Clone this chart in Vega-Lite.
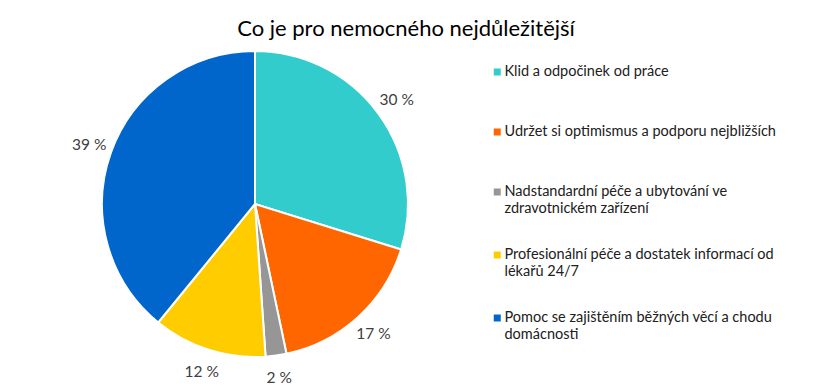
{
  "$schema": "https://vega.github.io/schema/vega-lite/v6.json",
  "width": 510,
  "height": 364,
  "autosize": "none",
  "padding": {"left": 0, "top": 22, "right": 305, "bottom": 0},
  "background": "white",
  "title": {
    "text": "Co je pro nemocného nejdůležitější",
    "font": "Lato",
    "fontSize": 22,
    "fontWeight": "normal",
    "color": "#000000",
    "anchor": "middle",
    "dx": 151,
    "offset": -19
  },
  "data": {
    "values": [
      {"idx": 1, "cat": "Klid a odpočinek od práce", "value": 29.8, "label": "30 %"},
      {"idx": 2, "cat": "Udržet si optimismus a podporu nejbližších", "value": 16.9, "label": "17 %"},
      {"idx": 3, "cat": "Nadstandardní péče a ubytování ve zdravotnickém zařízení", "value": 2.2, "label": "2 %"},
      {"idx": 4, "cat": "Profesionální péče a dostatek informací od lékařů 24/7", "value": 12.0, "label": "12 %"},
      {"idx": 5, "cat": "Pomoc se zajištěním běžných věcí a chodu domácnosti", "value": 39.1, "label": "39 %"}
    ]
  },
  "encoding": {
    "theta": {"field": "value", "type": "quantitative", "stack": true},
    "order": {"field": "idx", "type": "quantitative"}
  },
  "layer": [
    {
      "mark": {"type": "arc", "outerRadius": 153, "stroke": "white", "strokeWidth": 2},
      "encoding": {
        "color": {
          "field": "cat",
          "type": "nominal",
          "sort": null,
          "scale": {
            "domain": [
              "Klid a odpočinek od práce",
              "Udržet si optimismus a podporu nejbližších",
              "Nadstandardní péče a ubytování ve zdravotnickém zařízení",
              "Profesionální péče a dostatek informací od lékařů 24/7",
              "Pomoc se zajištěním běžných věcí a chodu domácnosti"
            ],
            "range": ["#33CCCC", "#FF6600", "#969696", "#FFCC00", "#0066CC"]
          },
          "legend": {
            "orient": "none",
            "legendX": 490,
            "legendY": 30,
            "title": null,
            "symbolType": "square",
            "symbolSize": 49,
            "symbolStrokeWidth": 0,
            "labelFont": "Lato",
            "labelFontSize": 14.5,
            "labelColor": "#202020",
            "labelLimit": 400,
            "labelOffset": 0,
            "labelExpr": "split(replace(replace(replace(datum.label, 've zdrav', 've|zdrav'), 'od lék', 'od|lék'), 'a chodu d', 'a chodu|d'), '|')",
            "clipHeight": 40,
            "rowPadding": 20
          }
        }
      }
    },
    {
      "mark": {"type": "text", "radius": 176, "font": "Lato", "fontSize": 15.5, "color": "#404040"},
      "encoding": {
        "detail": {"field": "cat", "type": "nominal"},
        "text": {"field": "label", "type": "nominal"}
      }
    }
  ],
  "config": {"view": {"stroke": null}}
}
